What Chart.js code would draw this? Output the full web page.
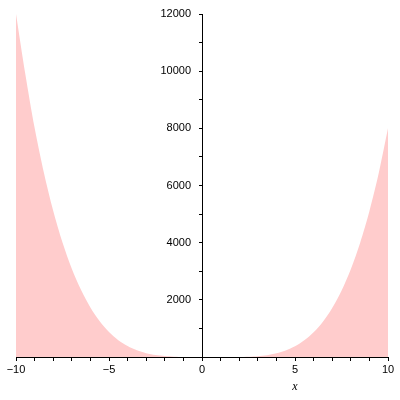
<!DOCTYPE html>
<html>
<head>
<meta charset="utf-8">
<script src="https://cdn.jsdelivr.net/npm/chart.js@4"></script>
<style>
html,body{margin:0;padding:0;background:#fff;}
#wrap{width:400px;height:400px;}
</style>
</head>
<body>
<div id="wrap"><canvas id="c" width="400" height="400"></canvas></div>
<script>
// x positions and curve values
const xValues = [-10,-9.5,-9,-8.5,-8,-7.5,-7,-6.5,-6,-5.5,-5,-4.5,-4,-3.5,-3,-2.5,-2,-1.5,-1,-0.5,0,0.5,1,1.5,2,2.5,3,3.5,4,4.5,5,5.5,6,6.5,7,7.5,8,8.5,9,9.5,10];
const yValues = [12000,9900,8020,6450,5120,4010,3090,2340,1730,1250,875,590,384,235,135,70,32,12,3,0.3,0,-0.2,-1,-1.7,0,7.8,27,64,128,228,375,583,864,1236,1715,2320,3072,3990,5103,6430,8000];
const xTickLabels = {"-10":"\u221210","-5":"\u22125","0":"0","5":"5","10":"10"};
const yTickLabels = [2000,4000,6000,8000,10000,12000];
const xTitle = "x";

const points = xValues.map((x,i)=>({x:x,y:yValues[i]}));

const xTitlePlugin = {
  id:'xTitle',
  afterDraw(chart){
    const xs = chart.scales.x;
    const ctx = chart.ctx;
    ctx.save();
    ctx.font = 'italic 12px "Liberation Serif"';
    ctx.fillStyle = '#000';
    ctx.textAlign = 'center';
    ctx.textBaseline = 'middle';
    const px = (xs.getPixelForValue(0) + xs.getPixelForValue(10)) / 2;
    ctx.fillText(xTitle, px, xs.top + 30);
    ctx.restore();
  }
};

new Chart(document.getElementById('c'), {
  type:'line',
  data:{datasets:[{
    data:points,
    fill:'origin',
    backgroundColor:'#ffcccc',
    borderWidth:0,
    borderColor:'rgba(0,0,0,0)',
    pointRadius:0,
    tension:0.3
  }]},
  options:{
    responsive:false,
    animation:false,
    layout:{padding:{left:16,right:12,top:14,bottom:0}},
    plugins:{legend:{display:false},tooltip:{enabled:false}},
    scales:{
      x:{
        type:'linear',
        min:-10,max:10,
        afterFit(s){ s.height = 43; },
        border:{display:true,color:'#000',width:1},
        grid:{drawOnChartArea:false,drawTicks:true,tickLength:4,color:'#000'},
        ticks:{stepSize:1,autoSkip:false,maxRotation:0,padding:2,color:'#000',
          font:{family:'"Liberation Sans"',size:11},
          callback:(v)=> (xTickLabels[String(v)] !== undefined ? xTickLabels[String(v)] : '')}
      },
      y:{
        type:'linear',
        position:{x:0},
        min:0,max:12000,
        border:{display:true,color:'#000',width:1},
        grid:{drawOnChartArea:false,drawTicks:true,tickLength:3,color:'#000'},
        ticks:{stepSize:1000,autoSkip:false,padding:0,color:'#000',
          font:{family:'"Liberation Sans"',size:11},
          callback:(v)=> (yTickLabels.includes(v) ? String(v) + '\u2002\u2002' : '')}
      }
    }
  },
  plugins:[xTitlePlugin]
});
</script>
</body>
</html>
